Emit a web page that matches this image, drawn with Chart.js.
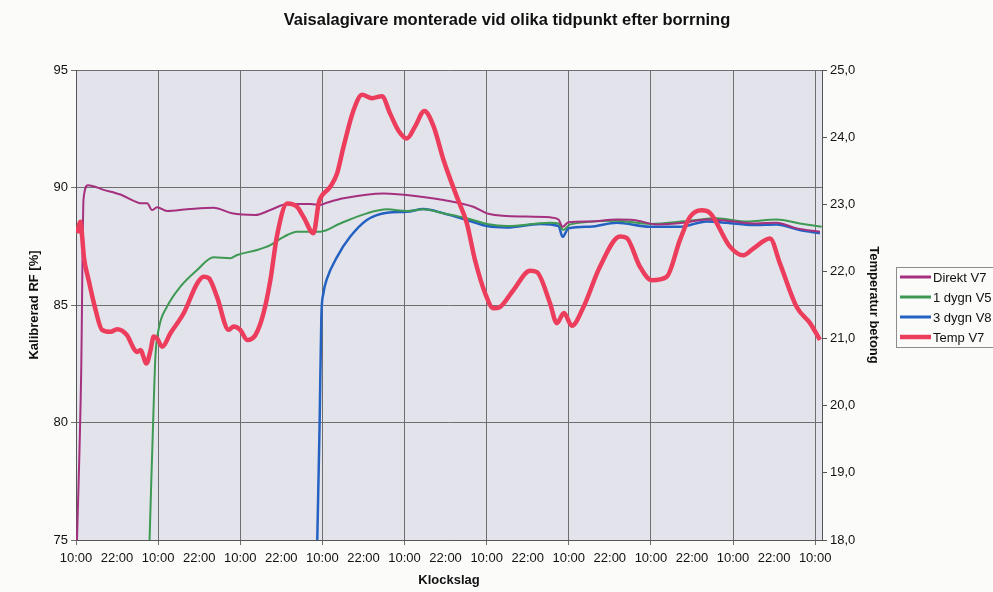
<!DOCTYPE html>
<html>
<head>
<meta charset="utf-8">
<title>Vaisalagivare</title>
<script src="https://cdn.jsdelivr.net/npm/chart.js@4.4.1/dist/chart.umd.min.js"></script>
<style>
  html, body { margin: 0; padding: 0; background: #fbfbfa; }
  #wrap { width: 993px; height: 592px; }
</style>
</head>
<body>
<div id="wrap"><canvas id="vaisala" width="993" height="592"></canvas></div>
<script>
// hours counted from the first 10:00 on the x axis
const tickHours = [0, 12, 24, 36, 48, 60, 72, 84, 96, 108, 120, 132, 144, 156, 168, 180, 192, 204, 216];
const tickLabels = ['10:00', '22:00', '10:00', '22:00', '10:00', '22:00', '10:00', '22:00', '10:00', '22:00',
  '10:00', '22:00', '10:00', '22:00', '10:00', '22:00', '10:00', '22:00', '10:00'];

const direktHours = [0.3, 1.5, 2.2, 3.5, 8.1, 13.0, 17.4, 18.8, 20.8, 22.2, 23.7, 26.6, 32.5, 40.2, 45.6, 52.4, 56.8,
  61.7, 68.5, 71.4, 73.3, 78.2, 89.9, 101.5, 107.4, 116.1, 120.1, 125.9, 138.5, 141.0, 142.2, 143.9, 150.2, 158.0,
  162.9, 169.7, 177.5, 184.3, 190.1, 198.9, 204.7, 210.6, 217.4];
const direktRF = [75, 82, 89.5, 90.1, 89.9, 89.7, 89.4, 89.33, 89.33, 89.04, 89.16, 89.0, 89.07, 89.14, 88.9, 88.83, 89.04,
  89.3, 89.3, 89.26, 89.35, 89.54, 89.75, 89.6, 89.47, 89.18, 88.9, 88.79, 88.73, 88.64, 88.33, 88.52, 88.55, 88.64,
  88.62, 88.43, 88.5, 88.64, 88.59, 88.47, 88.5, 88.26, 88.12];

const dygn1Hours = [21.5, 22.0, 22.6, 23.2, 24.2, 26.6, 30.5, 35.4, 40.2, 45.1, 47.1, 52.9, 56.8, 60.7, 64.6, 71.4, 77.2,
  85.0, 90.9, 96.7, 101.5, 107.4, 114.2, 120.1, 125.9, 138.5, 141.0, 142.4, 144.4, 158.0, 167.7, 179.4, 187.2, 196.0,
  204.7, 211.5, 216.4, 217.9];
const dygn1RF = [75, 77.5, 80.3, 82.8, 84.0, 84.93, 85.78, 86.49, 87.03, 86.99, 87.13, 87.34, 87.55, 87.9, 88.12, 88.12, 88.47,
  88.9, 89.07, 89.0, 89.07, 88.9, 88.69, 88.45, 88.36, 88.5, 88.47, 88.19, 88.43, 88.59, 88.45, 88.59, 88.69, 88.55,
  88.64, 88.47, 88.36, 88.33];

const dygn3Hours = [70.5, 71.2, 71.7, 72.3, 73.3, 76.3, 80.1, 85.0, 90.9, 96.7, 101.5, 107.4, 114.2, 120.1, 125.9, 135.6,
  141.0, 142.2, 143.9, 150.2, 158.0, 167.7, 176.5, 184.3, 190.1, 197.9, 204.7, 211.5, 217.4];
const dygn3RF = [75, 80, 84.5, 85.5, 86.1, 87.05, 87.9, 88.62, 88.93, 88.97, 89.08, 88.9, 88.62, 88.36, 88.3, 88.45,
  88.36, 87.9, 88.26, 88.33, 88.5, 88.33, 88.33, 88.55, 88.5, 88.4, 88.43, 88.19, 88.05];

const tempHours = [0.35, 1.3, 1.8, 2.3, 3.7, 5.7, 7.6, 10.1, 12.0, 14.9, 16.9, 17.9, 18.8, 20.6, 21.8, 22.7, 23.7, 25.2,
  27.6, 31.5, 35.4, 37.3, 38.8, 41.2, 44.6, 46.1, 48.0, 50.0, 52.4, 54.8, 56.8, 58.7, 61.7, 64.6, 66.5, 69.4, 70.9,
  71.4, 74.3, 76.3, 78.2, 81.1, 83.6, 86.5, 89.4, 91.8, 94.2, 96.7, 99.1, 101.8, 104.5, 107.4, 111.3, 114.2, 116.6,
  119.6, 122.0, 123.9, 127.8, 132.7, 134.7, 138.5, 140.5, 142.6, 144.9, 148.3, 153.1, 159.0, 160.9, 164.8, 168.2,
  172.6, 176.5, 179.4, 182.8, 185.3, 191.1, 195.0, 197.9, 202.8, 205.7, 210.6, 214.5, 217.4];
const tempBetong = [22.57, 22.74, 22.52, 22.22, 21.87, 21.43, 21.13, 21.1, 21.14, 21.05, 20.85, 20.8, 20.83, 20.63, 20.83,
  21.03, 21.0, 20.88, 21.08, 21.38, 21.82, 21.92, 21.9, 21.62, 21.13, 21.18, 21.13, 20.98, 21.05, 21.38, 21.87, 22.52,
  23.01, 22.96, 22.81, 22.57, 23.01, 23.09, 23.26, 23.46, 23.86, 24.4, 24.63, 24.58, 24.61, 24.35, 24.1, 23.98, 24.16,
  24.39, 24.16, 23.66, 23.11, 22.72, 22.17, 21.67, 21.45, 21.47, 21.72, 22.01, 21.99, 21.53, 21.23, 21.38, 21.19,
  21.47, 22.07, 22.52, 22.5, 22.07, 21.87, 21.92, 22.47, 22.81, 22.91, 22.87, 22.37, 22.24, 22.34, 22.49, 22.12,
  21.47, 21.23, 20.98];

const titleText = 'Vaisalagivare monterade vid olika tidpunkt efter borrning';
const fontName = '"Liberation Sans", Arial, sans-serif';

function toPoints(hours, values) {
  return hours.map((h, i) => ({x: h, y: values[i]}));
}

const plotBackground = {
  id: 'plotBackground',
  beforeDraw(chart) {
    const {ctx, chartArea} = chart;
    ctx.save();
    ctx.fillStyle = '#e3e3ec';
    ctx.fillRect(chartArea.left, chartArea.top, chartArea.right - chartArea.left, chartArea.bottom - chartArea.top);
    ctx.restore();
  }
};

const titleAndLegend = {
  id: 'titleAndLegend',
  afterDraw(chart) {
    const ctx = chart.ctx;
    ctx.save();
    ctx.fillStyle = '#111';
    ctx.font = 'bold 16.5px ' + fontName;
    ctx.textAlign = 'center';
    ctx.textBaseline = 'middle';
    ctx.fillText(titleText, 507, 20);

    // legend box, cut by the right edge like the original
    ctx.fillStyle = '#fbfbfa';
    ctx.fillRect(896.5, 267.5, 110, 80);
    ctx.strokeStyle = '#8c8c8c';
    ctx.lineWidth = 1;
    ctx.strokeRect(896.5, 267.5, 110, 80);
    ctx.font = '13px ' + fontName;
    ctx.textAlign = 'left';
    chart.data.datasets.forEach((ds, i) => {
      const y = 277 + i * 20;
      ctx.strokeStyle = ds.borderColor;
      ctx.lineWidth = Math.max(ds.borderWidth, 3);
      ctx.beginPath();
      ctx.moveTo(900, y);
      ctx.lineTo(931, y);
      ctx.stroke();
      ctx.fillStyle = '#111';
      ctx.fillText(ds.label, 933, y + 1);
    });
    ctx.restore();
  }
};

let data = {
  datasets: [{
    label: 'Direkt V7',
    data: toPoints(direktHours, direktRF),
    borderColor: '#a4307e',
    borderWidth: 2,
    yAxisID: 'y'
  }, {
    label: '1 dygn V5',
    data: toPoints(dygn1Hours, dygn1RF),
    borderColor: '#3e9953',
    borderWidth: 2,
    yAxisID: 'y'
  }, {
    label: '3 dygn V8',
    data: toPoints(dygn3Hours, dygn3RF),
    borderColor: '#2462c2',
    borderWidth: 2.5,
    yAxisID: 'y'
  }, {
    label: 'Temp V7',
    data: toPoints(tempHours, tempBetong),
    borderColor: '#ec3d5c',
    borderWidth: 4.5,
    yAxisID: 'yT',
    order: -1
  }]
};

let config = {
  type: 'line',
  data: data,
  plugins: [plotBackground, titleAndLegend],
  options: {
    responsive: false,
    animation: false,
    layout: {padding: {top: 70, right: 111, bottom: 0, left: 0}},
    elements: {
      point: {radius: 0},
      line: {cubicInterpolationMode: 'monotone', fill: false}
    },
    plugins: {
      legend: {display: false},
      title: {display: false},
      tooltip: {enabled: false}
    },
    scales: {
      x: {
        type: 'linear',
        min: 0,
        max: 218,
        afterBuildTicks: (axis) => { axis.ticks = tickHours.map(v => ({value: v})); },
        afterFit: (axis) => { axis.height = 52; },
        ticks: {
          autoSkip: false,
          maxRotation: 0,
          padding: 6,
          color: '#111',
          font: {family: fontName, size: 13},
          callback: (value) => tickLabels[tickHours.indexOf(value)]
        },
        grid: {
          color: (ctx) => (ctx.tick && ctx.tick.value % 24 === 0) ? '#6e6e6e' : 'rgba(0,0,0,0)',
          tickLength: 5
        },
        border: {color: '#555', width: 1},
        title: {
          display: true,
          text: 'Klockslag',
          color: '#111',
          font: {family: fontName, size: 13, weight: 'bold'},
          padding: {top: 0, bottom: 4}
        }
      },
      y: {
        position: 'left',
        min: 75,
        max: 95,
        afterFit: (axis) => { axis.width = 76; },
        ticks: {stepSize: 5, padding: 3, color: '#111', font: {family: fontName, size: 13}},
        grid: {color: '#6e6e6e', tickLength: 5},
        border: {color: '#555', width: 1},
        title: {
          display: true,
          text: 'Kalibrerad RF [%]',
          color: '#111',
          font: {family: fontName, size: 13, weight: 'bold'},
          padding: {top: 27, bottom: 0}
        }
      },
      yT: {
        position: 'right',
        min: 18,
        max: 25,
        afterFit: (axis) => { axis.width = 60; },
        ticks: {
          stepSize: 1,
          padding: 3,
          color: '#111',
          font: {family: fontName, size: 13},
          callback: (value) => value.toFixed(1).replace('.', ',')
        },
        grid: {drawOnChartArea: false, color: '#555', tickLength: 5},
        border: {color: '#555', width: 1},
        title: {
          display: true,
          text: 'Temperatur betong',
          color: '#111',
          font: {family: fontName, size: 13, weight: 'bold'},
          padding: {top: 1, bottom: 0}
        }
      }
    }
  }
};

let vaisalaChart = new Chart(
  document.getElementById('vaisala'),
  config
);
</script>
</body>
</html>
